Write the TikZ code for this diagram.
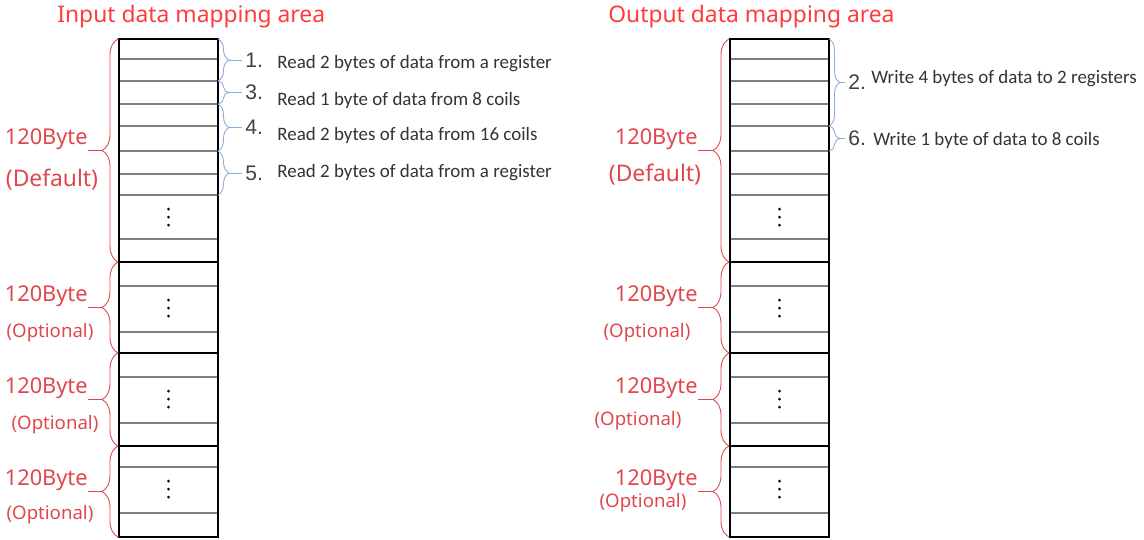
\documentclass[tikz,border=0pt]{standalone}
\usepackage{fontspec}
\setmainfont{Carlito}
\newfontfamily\labelfont{Noto Sans}
\newfontfamily\numfont{Liberation Sans}
\usepackage{xcolor}
\definecolor{mapRed}   {HTML}{FF3B3B}
\definecolor{sizeRed}  {HTML}{E0474C}
\definecolor{braceBlue}{HTML}{8EA9DB}
\definecolor{rowGray}  {HTML}{808080}
\usetikzlibrary{decorations.pathreplacing, positioning}

\begin{document}
\begin{tikzpicture}[x=0.02cm, y=-0.02cm,
    every node/.style={inner sep=0pt},
    areatitle/.style={font=\labelfont\fontsize{13}{15}\selectfont, text=mapRed, anchor=west},
    sizelbl/.style={font=\labelfont\fontsize{12.4}{14}\selectfont, text=sizeRed, anchor=south east},
    kindbig/.style={font=\labelfont\fontsize{13}{15}\selectfont, text=sizeRed},
    kindsmall/.style={font=\labelfont\fontsize{10.6}{12}\selectfont, text=sizeRed},
    stepnum/.style={font=\numfont\fontsize{12}{14}\selectfont, text=black!75, anchor=west},
    desc/.style={font=\fontsize{10.8}{13}\selectfont, text=black!80, anchor=west},
    secbox/.style={draw, line width=1.3pt},
    rowline/.style={draw=rowGray, line width=0.6pt},
    rbrace/.style={draw=sizeRed, line width=0.5pt, decorate,
                   decoration={brace, amplitude=0.32cm}},
    bbrace/.style={draw=braceBlue, line width=0.5pt, decorate,
                   decoration={brace, amplitude=0.22cm}},
    redlink/.style={draw=sizeRed, line width=0.5pt},
    bluelink/.style={draw=braceBlue, line width=0.5pt}
]
\useasboundingbox (0,0) rectangle (1144,539);
% Area titles
\node[areatitle] (inTitle)  at (57,17)  {Input data mapping area};
\node[areatitle] (outTitle) at (608,17) {Output data mapping area};
% Memory columns: rows, 120 byte blocks, dots
\foreach \bx in {119, 730} {
  \foreach \ry in {59,81,104,126,151,174,195,239,286,332,377,423,467,513}
    \draw[rowline] (\bx,\ry) -- (\bx+99,\ry);
  \foreach \ya/\yb in {39/262, 262/353, 353/446, 446/537}
    \draw[secbox] (\bx,\ya) rectangle (\bx+99,\yb);
  \foreach \dy in {217,308,399,489}
    \foreach \dd in {-8,0,8}
      \fill (\bx+49.5,\dy+\dd) circle (1.5);
}
% Red braces: block size on the left of each column
\foreach \nm/\bx/\lx/\ya/\yb/\kx/\ky/\kst/\kind [count=\k] in {
    in/118/88/39/262/52/180/kindbig/(Default),
    in/118/88/262/353/50/333/kindsmall/(Optional),
    in/118/88/353/446/55/425/kindsmall/(Optional),
    in/118/88/446/537/50/515/kindsmall/(Optional),
    out/729/698/39/262/655/175/kindbig/(Default),
    out/729/698/262/353/647/333/kindsmall/(Optional),
    out/729/698/353/446/638/421/kindsmall/(Optional),
    out/729/698/446/537/643/503/kindsmall/(Optional)} {
  \draw[rbrace] (\bx,\yb) -- (\bx,\ya);
  \coordinate (\nm Tip\k) at (\bx-16,{(\ya+\yb)/2});
  \node[sizelbl] (\nm Size\k) at (\lx,{(\ya+\yb)/2}) {120Byte};
  \draw[redlink] (\nm Tip\k) -- (\nm Size\k.south east);
  \node[\kst] (\nm Kind\k) at (\kx,\ky) {\kind};
}
% Blue braces: Modbus requests mapped to the rows
\foreach \nm/\bx/\ya/\yb/\nx/\num/\dx/\dy/\txt [count=\k] in {
    rd/218/39/81/245/1./277/64/Read 2 bytes of data from a register,
    rd/218/81/104/245/3./277/100/Read 1 byte of data from 8 coils,
    rd/218/104/151/245/4./277/135/Read 2 bytes of data from 16 coils,
    rd/218/151/195/245/5./277/173/Read 2 bytes of data from a register,
    wr/829/39/126/848/2./871/79/Write 4 bytes of data to 2 registers,
    wr/829/126/151/848/6./873/140/Write 1 byte of data to 8 coils} {
  \draw[bbrace] (\bx,\ya) -- (\bx,\yb);
  \coordinate (\nm Tip\k) at (\bx+11,{(\ya+\yb)/2});
  \node[stepnum] (\nm Num\k) at (\nx,{(\ya+\yb)/2}) {\num};
  \draw[bluelink] (\nm Tip\k) -- ([xshift=-1.5pt]\nm Num\k.west);
  \node[desc] (\nm Desc\k) at (\dx,\dy) {\txt};
}
\end{tikzpicture}
\end{document}
